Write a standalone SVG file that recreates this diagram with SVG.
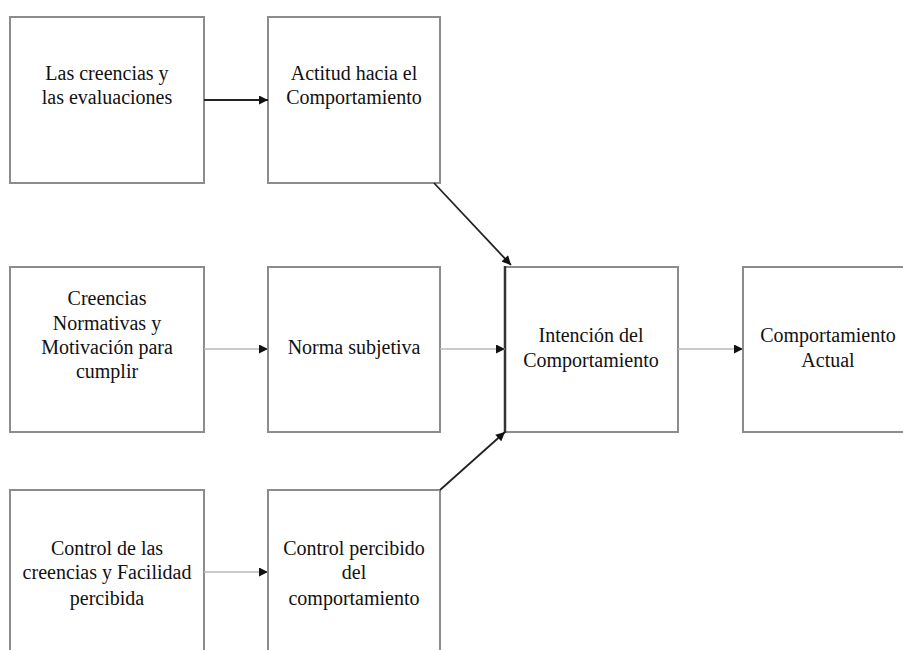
<svg xmlns="http://www.w3.org/2000/svg" width="903" height="650" viewBox="0 0 903 650">
<defs>
<marker id="ah" viewBox="0 0 10 10" refX="10" refY="5" markerWidth="10" markerHeight="9" markerUnits="userSpaceOnUse" orient="auto">
<path d="M0,0 L10,5 L0,10 z" fill="#111"/>
</marker>
</defs>
<style>
.box{fill:#fff;stroke:#8c8c8c;stroke-width:2}
.t{font-family:'Liberation Serif','DejaVu Serif',serif;font-size:20px;fill:#111;text-anchor:middle}
.dk{stroke:#222;stroke-width:1.8;fill:none}
.lt{stroke:#b8b8b8;stroke-width:1.5;fill:none}
</style>
<rect width="903" height="650" fill="#fff"/>
<g id="n1"><rect class="box" x="10" y="17" width="194" height="166"/>
<text class="t" x="107" y="80" font-family="Liberation Serif">Las creencias y</text><text class="t" x="107" y="104" font-family="Liberation Serif">las evaluaciones</text></g>
<g id="n2"><rect class="box" x="268" y="17" width="172" height="166"/>
<text class="t" x="354" y="80">Actitud hacia el</text><text class="t" x="354" y="104">Comportamiento</text></g>
<g id="n3"><rect class="box" x="10" y="267" width="194" height="165"/>
<text class="t" x="107" y="305">Creencias</text><text class="t" x="107" y="330">Normativas y</text><text class="t" x="107" y="354">Motivación para</text><text class="t" x="107" y="378">cumplir</text></g>
<g id="n4"><rect class="box" x="268" y="267" width="172" height="165"/>
<text class="t" x="354" y="354">Norma subjetiva</text></g>
<g id="n5"><rect class="box" x="10" y="490" width="194" height="170"/>
<text class="t" x="107" y="555">Control de las</text><text class="t" x="107" y="579">creencias y Facilidad</text><text class="t" x="107" y="605">percibida</text></g>
<g id="n6"><rect class="box" x="268" y="490" width="172" height="170"/>
<text class="t" x="354" y="555">Control percibido</text><text class="t" x="354" y="579">del</text><text class="t" x="354" y="605">comportamiento</text></g>
<g id="n7"><rect class="box" x="505" y="267" width="173" height="165"/>
<line x1="505" y1="266" x2="505" y2="433" stroke="#333" stroke-width="2.5"/>
<text class="t" x="591" y="342">Intención del</text><text class="t" x="591" y="367">Comportamiento</text></g>
<g id="n8"><rect class="box" x="743" y="267" width="180" height="165"/>
<text class="t" x="828" y="342">Comportamiento</text><text class="t" x="828" y="367">Actual</text></g>
<g id="connectors">
<line class="dk" x1="204" y1="100" x2="268" y2="100" marker-end="url(#ah)"/>
<line class="lt" x1="204" y1="349" x2="268" y2="349" marker-end="url(#ah)"/>
<line class="lt" x1="204" y1="572" x2="268" y2="572" marker-end="url(#ah)"/>
<line class="lt" x1="440" y1="349" x2="505" y2="349" marker-end="url(#ah)"/>
<line class="lt" x1="678" y1="349" x2="743" y2="349" marker-end="url(#ah)"/>
<line class="dk" x1="434" y1="183" x2="511" y2="265" marker-end="url(#ah)"/>
<line class="dk" x1="440" y1="490" x2="505" y2="432" marker-end="url(#ah)"/>
</g>
</svg>
